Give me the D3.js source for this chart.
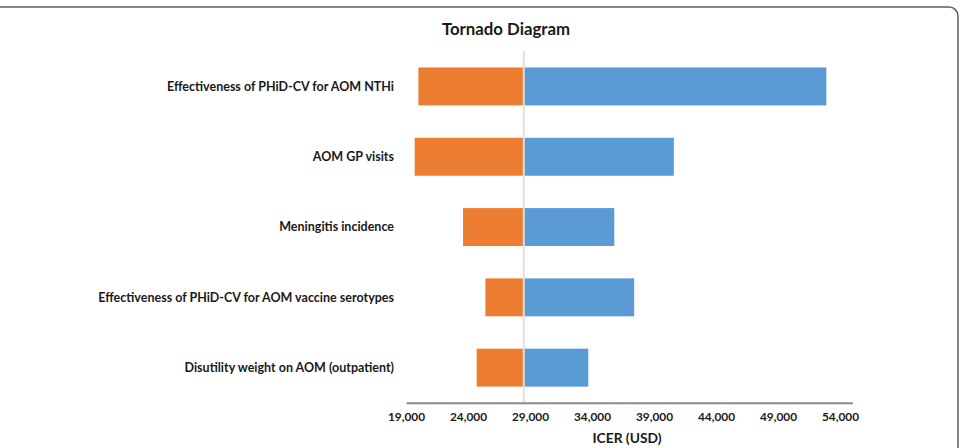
<!DOCTYPE html>
<html>
<head>
<meta charset="utf-8">
<script src="https://cdn.jsdelivr.net/npm/d3@7"></script>
<style>
  body { margin: 0; background: #ffffff; }
  svg { display: block; font-family: Lato, "Open Sans", sans-serif; }
</style>
</head>
<body>
<div id="chart"></div>
<script>
// data
var categories = [
  "Effectiveness of PHiD-CV for AOM NTHi",
  "AOM GP visits",
  "Meningitis incidence",
  "Effectiveness of PHiD-CV for AOM vaccine serotypes",
  "Disutility weight on AOM (outpatient)"
];
var lowValues  = [20000, 19700, 23600, 25400, 24700];  // orange, left of base
var highValues = [52900, 40600, 35800, 37400, 33700];  // blue, right of base
var baseValue = 28500;
var tickValues = [19000, 24000, 29000, 34000, 39000, 44000, 49000, 54000];
var axisDomain = [19000, 55000];

var width = 961, height = 448;
var lowColor = "#ED7D31", highColor = "#5B9BD5";

var svg = d3.select("#chart").append("svg")
    .attr("width", width)
    .attr("height", height);

// outer frame (rounded, left edge cropped)
svg.append("rect")
    .attr("x", -10).attr("y", 7)
    .attr("width", 968).attr("height", 470)
    .attr("rx", 9)
    .attr("fill", "none")
    .attr("stroke", "#5f5f5f")
    .attr("stroke-width", 1.5);

var x = d3.scaleLinear().domain(axisDomain).range([406, 852.4]);
var y = d3.scaleBand().domain(categories).range([51.3, 402.8])
    .paddingInner(0.46).paddingOuter(0.23);

var rows = categories.map(function(c, i) {
  return { name: c, low: lowValues[i], high: highValues[i] };
});

// title
svg.append("text")
    .attr("x", 506).attr("y", 35)
    .attr("text-anchor", "middle")
    .attr("font-size", 16.8)
    .attr("font-weight", "bold")
    .attr("fill", "#1a1a1a")
    .text("Tornado Diagram");

// low side bars
svg.selectAll("rect.low")
    .data(rows).enter()
  .append("rect")
    .attr("class", "low")
    .attr("x", function(d) { return x(d.low); })
    .attr("y", function(d) { return y(d.name); })
    .attr("width", function(d) { return x(baseValue) - x(d.low); })
    .attr("height", y.bandwidth())
    .attr("fill", lowColor);

// high side bars
svg.selectAll("rect.high")
    .data(rows).enter()
  .append("rect")
    .attr("class", "high")
    .attr("x", x(baseValue))
    .attr("y", function(d) { return y(d.name); })
    .attr("width", function(d) { return x(d.high) - x(baseValue); })
    .attr("height", y.bandwidth())
    .attr("fill", highColor);

// base line
svg.append("line")
    .attr("x1", x(baseValue)).attr("x2", x(baseValue))
    .attr("y1", 51.3).attr("y2", 402.8)
    .attr("stroke", "#e0e0e0")
    .attr("stroke-width", 2);

// category labels
svg.selectAll("text.cat")
    .data(categories).enter()
  .append("text")
    .attr("class", "cat")
    .attr("x", 394)
    .attr("y", function(d) { return y(d) + y.bandwidth() / 2; })
    .attr("dy", "0.35em")
    .attr("text-anchor", "end")
    .attr("font-size", 12.5)
    .attr("font-weight", "bold")
    .attr("fill", "#1a1a1a")
    .text(function(d) { return d; });

// x axis
var xAxis = d3.axisBottom(x)
    .tickValues(tickValues)
    .tickSize(0)
    .tickPadding(10)
    .tickFormat(d3.format(","));

var gx = svg.append("g")
    .attr("transform", "translate(0,402.8)")
    .call(xAxis);
gx.select(".domain").attr("stroke", "#8c8c8c").attr("stroke-width", 2);
gx.selectAll("text")
    .attr("font-family", "Lato, 'Open Sans', sans-serif")
    .attr("font-size", 11.8)
    .attr("font-weight", "bold")
    .attr("fill", "#1a1a1a");

svg.append("text")
    .attr("x", 627).attr("y", 443)
    .attr("text-anchor", "middle")
    .attr("font-size", 13.8)
    .attr("font-weight", "bold")
    .attr("fill", "#1a1a1a")
    .text("ICER (USD)");
</script>
</body>
</html>
